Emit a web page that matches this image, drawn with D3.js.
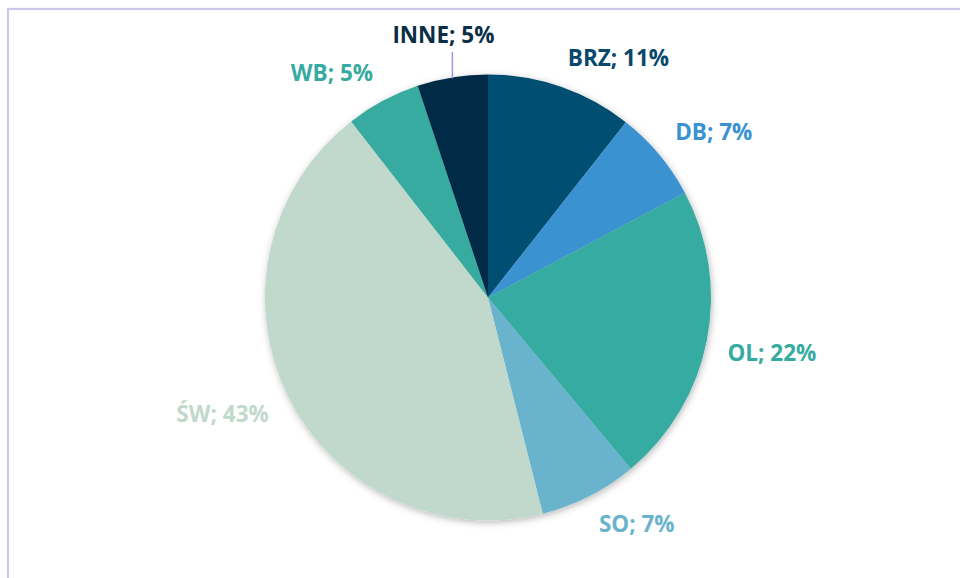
<!DOCTYPE html>
<html>
<head>
<meta charset="utf-8">
<script src="https://cdn.jsdelivr.net/npm/d3@7"></script>
<style>
  html, body { margin: 0; padding: 0; background: #ffffff; }
  svg { display: block; }
  text { font-family: "Open Sans", sans-serif; font-weight: 700; }
</style>
</head>
<body>
<svg id="chart" width="960" height="578"></svg>
<script>
// ---- data ----
const categories = ["BRZ", "DB", "OL", "SO", "ŚW", "WB", "INNE"];
const values = [10.6, 6.6, 21.7, 7.1, 43.4, 5.4, 5.1];
const sliceColors = ["#034f72", "#3a92d1", "#36aba2", "#69b3cd", "#c1d9cd", "#37aba1", "#022c45"];
const labelColors = ["#07486c", "#3a92d1", "#36aba2", "#69b3cd", "#c1d9cd", "#37aba1", "#0b2e47"];
const movedLabels = ["INNE"];

// ---- layout ----
const W = 960, H = 578;
const cx = 488, cy = 297.5, R = 223;
const gap = 21;

const svg = d3.select("#chart");

// frame (cut off at right and bottom)
svg.append("rect")
  .attr("x", 8).attr("y", 9)
  .attr("width", 2000).attr("height", 2000)
  .attr("fill", "none")
  .attr("stroke", "#cfc6ee")
  .attr("stroke-width", 2.2);

const defs = svg.append("defs");
const f = defs.append("filter").attr("id", "shadow")
  .attr("x", "-20%").attr("y", "-20%").attr("width", "140%").attr("height", "140%");
f.append("feDropShadow")
  .attr("dx", 1).attr("dy", 2)
  .attr("stdDeviation", 3.5)
  .attr("flood-color", "#000").attr("flood-opacity", 0.28);

const data = categories.map((c, i) => ({ cat: c, value: values[i], i }));
const pie = d3.pie().value(d => d.value).sort(null);
const arcs = pie(data);
const arc = d3.arc().innerRadius(0).outerRadius(R);

const g = svg.append("g").attr("transform", `translate(${cx},${cy})`);

const pieG = g.append("g").attr("filter", "url(#shadow)");
pieG.selectAll("path")
  .data(arcs)
  .join("path")
  .attr("d", arc)
  .attr("fill", d => sliceColors[d.data.i]);

const total = d3.sum(values);
const labelText = d => `${d.data.cat}; ${Math.round(d.data.value / total * 100)}%`;

const lg = g.append("g");
arcs.forEach(d => {
  const mid = (d.startAngle + d.endAngle) / 2;
  const sx = Math.sin(mid), sy = -Math.cos(mid);
  const t = lg.append("text")
    .attr("font-size", 22.5)
    .attr("fill", labelColors[d.data.i])
    .attr("text-anchor", "middle")
    .text(labelText(d));
  const w = t.node().getComputedTextLength();
  const halfH = 9;
  if (movedLabels.includes(d.data.cat)) {
    const ex = R * sx, ey = R * sy;
    const topY = -R - 22.5;
    t.attr("x", ex - 9).attr("y", topY - 9);
    lg.append("line")
      .attr("x1", ex).attr("x2", ex)
      .attr("y1", topY).attr("y2", ey + 1)
      .attr("stroke", "#a393e0")
      .attr("stroke-width", 1.5);
  } else {
    const ax = (R + gap) * sx, ay = (R + gap) * sy;
    const x = ax + Math.sign(sx) * w / 2;
    const yMid = ay + Math.sign(sy) * halfH;
    t.attr("x", x).attr("y", yMid + 8);
  }
});
</script>
</body>
</html>
